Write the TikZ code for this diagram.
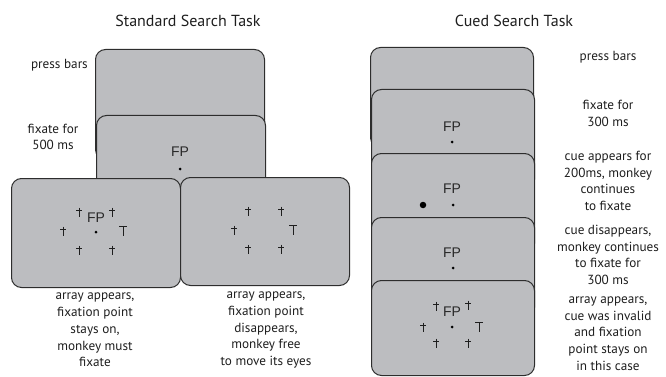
\documentclass[tikz,border=0pt]{standalone}
\usepackage{fontspec}
\setmainfont{PT Sans}
\newfontfamily\fpfont{Liberation Sans}
\definecolor{boxgray}{RGB}{188,189,192}
\definecolor{edgegray}{RGB}{45,45,45}
\definecolor{txt}{RGB}{30,30,30}
\tikzset{
  card/.style={draw=edgegray, fill=boxgray, line width=1pt, rounded corners=10pt, inner sep=0pt, anchor=north west},
  lbl/.style={font=\fontsize{13.2}{16.7}\selectfont, align=center, inner sep=0pt, text=txt},
  ttl/.style={font=\fontsize{16}{18}\selectfont, inner sep=0pt, text=txt},
  fp/.style={font=\fpfont\fontsize{14}{14}\selectfont, inner sep=0pt, text=txt!95},
  fixdot/.style={circle, fill=black, inner sep=0pt, minimum size=3pt},
  cuedot/.style={circle, fill=black, inner sep=0pt, minimum size=6.5pt},
  xcross/.pic={\draw[line width=0.9pt, txt] (0,-4.5) -- (0,4.5) (-3,-2) -- (3,-2);},
  tgt/.pic={\draw[line width=0.9pt, txt] (0,-4.5) -- (0,4.5) (-3.7,-4.5) -- (3.7,-4.5);},
}
\begin{document}
\begin{tikzpicture}[x=1pt, y=-1pt]
\useasboundingbox (0,0) rectangle (666,377);
% titles
\node[ttl] (t1) at (188,21) {Standard Search Task};
\node[ttl] (t2) at (514,21) {Cued Search Task};
% ---------- standard ----------
\node[card, minimum width=169pt, minimum height=110pt] (s1) at (95,49) {};
\node[card, minimum width=169pt, minimum height=110pt] (s2) at (96,115) {};
\node[card, minimum width=169pt, minimum height=109pt] (s3) at (11,178) {};
\node[card, minimum width=169pt, minimum height=108pt] (s4) at (180,177) {};
\node[fp] (s2fp) at (180,152) {FP};
\node[fixdot] (s2d) at (180,169) {};
% array in s3
\node[fp] (s3fp) at (96,218) {FP};
\node[fixdot] (s3d) at (96,232) {};
\pic at (79,212) {xcross};
\pic at (112,212) {xcross};
\pic at (63,231) {xcross};
\pic at (79,250) {xcross};
\pic at (112,250) {xcross};
\pic at (123,231) {tgt};
% array in s4
\pic at (248,211) {xcross};
\pic at (281,211) {xcross};
\pic at (234,230) {xcross};
\pic at (248,249) {xcross};
\pic at (281,249) {xcross};
\pic at (293,230) {tgt};
% labels standard
\node[lbl, anchor=east] (l1) at (88,65) {press bars};
\node[lbl] (l2) at (53,137) {fixate for\\500 ms};
\node[lbl] (l3) at (95,330) {array appears,\\fixation point\\stays on,\\monkey must\\fixate};
\node[lbl] (l4) at (266,330) {array appears,\\fixation point\\disappears,\\monkey free\\to move its eyes};
% ---------- cued ----------
\node[card, minimum width=163pt, minimum height=100pt] (c1) at (370,47) {};
\node[card, minimum width=163pt, minimum height=100pt] (c2) at (371,89) {};
\node[card, minimum width=163pt, minimum height=100pt] (c3) at (371,153) {};
\node[card, minimum width=163pt, minimum height=100pt] (c4) at (371,217) {};
\node[card, minimum width=163pt, minimum height=95pt] (c5) at (371,280) {};
\node[fp] (c2fp) at (452,127) {FP};
\node[fixdot] (c2d) at (452,142) {};
\node[fp] (c3fp) at (452,189) {FP};
\node[fixdot] (c3d) at (453,205) {};
\node[cuedot] (cue) at (423,205) {};
\node[fp] (c4fp) at (452,253) {FP};
\node[fixdot] (c4d) at (453,268) {};
\node[fp] (c5fp) at (452,312) {FP};
\node[fixdot] (c5d) at (452,327) {};
\pic at (436,306) {xcross};
\pic at (468,305) {xcross};
\pic at (423,327) {xcross};
\pic at (436,343) {xcross};
\pic at (468,343) {xcross};
\pic at (479,327) {tgt};
% labels cued
\node[lbl] (r1) at (608,57) {press bars};
\node[lbl] (r2) at (608,113.5) {fixate for\\300 ms};
\node[lbl] (r3) at (608,181) {cue appears for\\200ms, monkey\\continues\\to fixate};
\node[lbl] (r4) at (608,255) {cue disappears,\\monkey continues\\to fixate for\\300 ms};
\node[lbl] (r5) at (608,333.5) {array appears,\\cue was invalid\\and fixation\\point stays on\\in this case};
\end{tikzpicture}
\end{document}
